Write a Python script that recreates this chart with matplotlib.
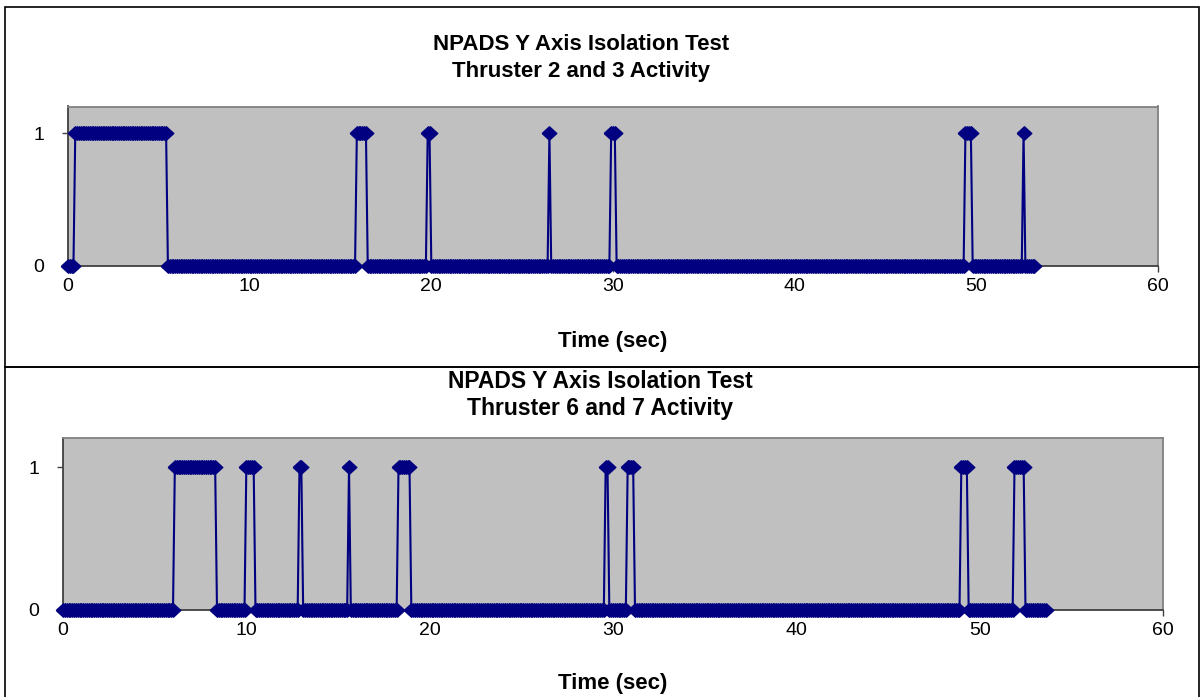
import numpy as np
import matplotlib
matplotlib.use("Agg")
import matplotlib.pyplot as plt
from matplotlib.patches import Rectangle

plt.rcParams['font.family'] = ['Liberation Sans', 'DejaVu Sans']

# Thruster firing log, sampled every 0.1 s (1 = firing, 0 = idle)
sample_dt = 0.1

# Thrusters 2 and 3
t23_end = 53.2
t23_on_start = [0.4, 15.9, 19.8, 26.5, 29.9, 49.4, 52.6]
t23_on_end = [5.4, 16.4, 19.9, 26.5, 30.1, 49.7, 52.6]

# Thrusters 6 and 7
t67_end = 53.6
t67_on_start = [6.1, 10.0, 12.9, 15.6, 18.3, 29.6, 30.8, 49.0, 51.9]
t67_on_end = [8.3, 10.4, 13.0, 15.6, 18.9, 29.7, 31.1, 49.3, 52.4]

x_ticks = [0, 10, 20, 30, 40, 50, 60]
y_ticks = [0, 1]
title_line1 = "NPADS Y Axis Isolation Test"
titles_line2 = ["Thruster 2 and 3 Activity", "Thruster 6 and 7 Activity"]
x_label = "Time (sec)"


def state_series(t_end, starts, ends):
    t = np.round(np.arange(0, t_end + sample_dt / 2, sample_dt), 1)
    s = np.zeros_like(t)
    for a, b in zip(starts, ends):
        s[(t >= a - 1e-9) & (t <= b + 1e-9)] = 1
    return t, s


W, H = 1203, 697
fig = plt.figure(figsize=(W / 100, H / 100), dpi=100)
fig.patch.set_facecolor('white')


def fx(px):
    return px / W


def fy(py):
    return 1 - py / H


# chart frames
for (x0, y0, x1, y1) in [(5, 7, 1199, 367), (5, 367, 1199, 705)]:
    fig.add_artist(Rectangle((fx(x0), fy(y1)), fx(x1) - fx(x0), fy(y0) - fy(y1),
                             transform=fig.transFigure, fill=False,
                             edgecolor='black', linewidth=1.2))

diamond = [(-1, 0), (0, 0.92), (1, 0), (0, -0.92), (-1, 0)]

panels = [
    dict(box=(68, 106.5, 1158, 266), data=(t23_end, t23_on_start, t23_on_end),
         title_x=581, title_y=(45, 72), xlabel_y=341, title_size=16),
    dict(box=(63, 438.4, 1163, 610), data=(t67_end, t67_on_start, t67_on_end),
         title_x=600, title_y=(381, 409), xlabel_y=684, title_size=16.5),
]

for i, p in enumerate(panels):
    x0, y0, x1, y1 = p['box']
    ax = fig.add_axes([fx(x0), fy(y1), fx(x1) - fx(x0), fy(y0) - fy(y1)])
    ax.set_facecolor('#C0C0C0')
    t, s = state_series(*p['data'])
    ax.plot(t, s, color='#000080', linewidth=1.5, marker=diamond,
            markersize=10.5, markeredgewidth=1.0, markerfacecolor='#000080',
            markeredgecolor='#000080', clip_on=False, zorder=3)
    ax.set_xlim(0, 60)
    ax.set_ylim(0, 1.2)
    ax.set_xticks(x_ticks)
    ax.set_yticks(y_ticks)
    ax.tick_params(axis='both', direction='out', length=4, width=1,
                   color='#404040', labelsize=14)
    ax.tick_params(axis='x', pad=4.5)
    ax.tick_params(axis='y', pad=13)
    for side in ('left', 'bottom'):
        ax.spines[side].set_color('#404040')
        ax.spines[side].set_linewidth(1.3)
    for side in ('top', 'right'):
        ax.spines[side].set_color('#808080')
        ax.spines[side].set_linewidth(1.3)

    fig.text(fx(p['title_x']), fy(p['title_y'][0]), title_line1,
             ha='center', va='center', fontsize=p['title_size'], fontweight='bold')
    fig.text(fx(p['title_x']), fy(p['title_y'][1]), titles_line2[i],
             ha='center', va='center', fontsize=p['title_size'], fontweight='bold')
    fig.text(fx((x0 + x1) / 2), fy(p['xlabel_y']), x_label,
             ha='center', va='center', fontsize=16, fontweight='bold')

fig.savefig("out.png", dpi=100)
